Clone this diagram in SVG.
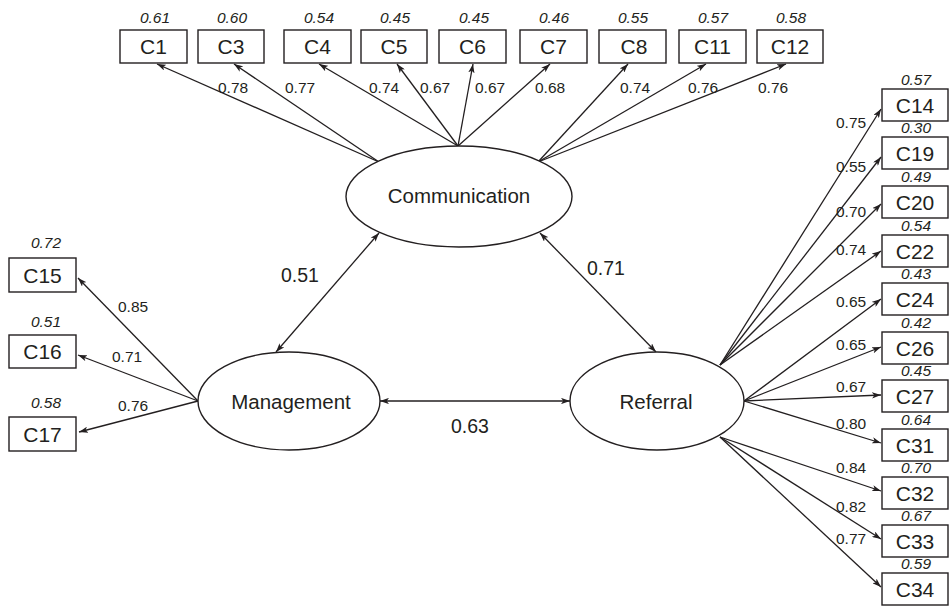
<svg xmlns="http://www.w3.org/2000/svg" width="951" height="607" viewBox="0 0 951 607">
<defs>
<marker id="ah" viewBox="0 0 10 7" refX="10" refY="3.5" markerWidth="9" markerHeight="6.3" markerUnits="userSpaceOnUse" orient="auto-start-reverse">
<path d="M0,0 L10,3.5 L0,7 L2.5,3.5 z" fill="#231f20"/>
</marker>
<style>
.box{fill:#fff;stroke:#231f20;stroke-width:1.4}
.ell{fill:#fff;stroke:#231f20;stroke-width:1.4}
.bt{font-family:"Liberation Sans",Arial,sans-serif;font-size:21px;fill:#231f20;text-anchor:middle}
.lt{font-family:"Liberation Sans",Arial,sans-serif;font-size:20.5px;fill:#231f20;text-anchor:middle}
.rs{font-family:"Liberation Sans",Arial,sans-serif;font-size:15.5px;font-style:italic;fill:#231f20;text-anchor:middle}
.ld{font-family:"Liberation Sans",Arial,sans-serif;font-size:15.5px;fill:#231f20}
.cr{font-family:"Liberation Sans",Arial,sans-serif;font-size:19.5px;fill:#231f20;text-anchor:middle}
.c line{stroke:#231f20;stroke-width:1.3;marker-end:url(#ah)}
.c line.d{marker-start:url(#ah)}
</style>
</defs>
<rect width="951" height="607" fill="#fff"/>

<g id="connectors" class="c">
<line x1="379" y1="162" x2="157" y2="64"/>
<line x1="379" y1="162" x2="234" y2="64"/>
<line x1="458" y1="146" x2="319" y2="64"/>
<line x1="458" y1="146" x2="397" y2="64"/>
<line x1="458" y1="146" x2="473" y2="64"/>
<line x1="458" y1="146" x2="550" y2="64"/>
<line x1="538" y1="162" x2="628" y2="64"/>
<line x1="538" y1="162" x2="706" y2="64"/>
<line x1="538" y1="162" x2="786" y2="64"/>
<line x1="198" y1="401" x2="78" y2="278"/>
<line x1="198" y1="401" x2="78" y2="355"/>
<line x1="198" y1="401" x2="79" y2="432"/>
<line x1="720" y1="365" x2="881" y2="109"/>
<line x1="720" y1="365" x2="881" y2="157"/>
<line x1="720" y1="365" x2="881" y2="204"/>
<line x1="720" y1="365" x2="881" y2="251"/>
<line x1="744" y1="401" x2="881" y2="299"/>
<line x1="744" y1="401" x2="881" y2="347"/>
<line x1="744" y1="401" x2="881" y2="395"/>
<line x1="744" y1="401" x2="881" y2="443"/>
<line x1="720" y1="437" x2="881" y2="491"/>
<line x1="720" y1="437" x2="881" y2="539"/>
<line x1="720" y1="437" x2="881" y2="587"/>
<line class="d" x1="380" y1="401" x2="570" y2="401"/>
<line class="d" x1="379" y1="233" x2="276" y2="352"/>
<line class="d" x1="540" y1="233" x2="656" y2="352"/>
</g>

<g id="loadings">
<text class="ld" x="218" y="93">0.78</text>
<text class="ld" x="285" y="93">0.77</text>
<text class="ld" x="369" y="93">0.74</text>
<text class="ld" x="420" y="93">0.67</text>
<text class="ld" x="475" y="93">0.67</text>
<text class="ld" x="535" y="93">0.68</text>
<text class="ld" x="620" y="93">0.74</text>
<text class="ld" x="688" y="93">0.76</text>
<text class="ld" x="758" y="93">0.76</text>
<text class="ld" x="118" y="312">0.85</text>
<text class="ld" x="112" y="362">0.71</text>
<text class="ld" x="118" y="411">0.76</text>
<text class="ld" x="836" y="128">0.75</text>
<text class="ld" x="836" y="172">0.55</text>
<text class="ld" x="836" y="217">0.70</text>
<text class="ld" x="836" y="255">0.74</text>
<text class="ld" x="836" y="307">0.65</text>
<text class="ld" x="836" y="350">0.65</text>
<text class="ld" x="836" y="392">0.67</text>
<text class="ld" x="836" y="429">0.80</text>
<text class="ld" x="836" y="473">0.84</text>
<text class="ld" x="836" y="512">0.82</text>
<text class="ld" x="836" y="544">0.77</text>
<text class="cr" x="300" y="282">0.51</text>
<text class="cr" x="606" y="275">0.71</text>
<text class="cr" x="470" y="433">0.63</text>
</g>

<g id="Communication"><ellipse class="ell" cx="459" cy="196.5" rx="113" ry="50.5"/><text class="lt" x="459" y="203">Communication</text></g>
<g id="Management"><ellipse class="ell" cx="289" cy="401" rx="91" ry="49"/><text class="lt" x="291" y="408.5">Management</text></g>
<g id="Referral"><ellipse class="ell" cx="657" cy="401" rx="87" ry="49"/><text class="lt" x="656" y="408.5">Referral</text></g>

<g id="C1"><rect class="box" x="120" y="30" width="67" height="33"/><text class="bt" x="153.5" y="54">C1</text><text class="rs" x="155" y="23">0.61</text></g>
<g id="C3"><rect class="box" x="198" y="30" width="66" height="33"/><text class="bt" x="231" y="54">C3</text><text class="rs" x="232" y="23">0.60</text></g>
<g id="C4"><rect class="box" x="284" y="30" width="67" height="33"/><text class="bt" x="317.5" y="54">C4</text><text class="rs" x="319" y="23">0.54</text></g>
<g id="C5"><rect class="box" x="361" y="30" width="66" height="33"/><text class="bt" x="394" y="54">C5</text><text class="rs" x="395" y="23">0.45</text></g>
<g id="C6"><rect class="box" x="439" y="30" width="67" height="33"/><text class="bt" x="472.5" y="54">C6</text><text class="rs" x="474" y="23">0.45</text></g>
<g id="C7"><rect class="box" x="520" y="30" width="67" height="33"/><text class="bt" x="553.5" y="54">C7</text><text class="rs" x="554" y="23">0.46</text></g>
<g id="C8"><rect class="box" x="599" y="30" width="67" height="33"/><text class="bt" x="634" y="54">C8</text><text class="rs" x="633" y="23">0.55</text></g>
<g id="C11"><rect class="box" x="679" y="30" width="67" height="33"/><text class="bt" x="712.5" y="54">C11</text><text class="rs" x="713" y="23">0.57</text></g>
<g id="C12"><rect class="box" x="757" y="30" width="66" height="33"/><text class="bt" x="790" y="54">C12</text><text class="rs" x="791" y="23">0.58</text></g>

<g id="C15"><rect class="box" x="9" y="258" width="67" height="34"/><text class="bt" x="42.5" y="282.5">C15</text><text class="rs" x="46" y="248">0.72</text></g>
<g id="C16"><rect class="box" x="9" y="335" width="67" height="33"/><text class="bt" x="42.5" y="359">C16</text><text class="rs" x="46" y="327">0.51</text></g>
<g id="C17"><rect class="box" x="9" y="417" width="67" height="34"/><text class="bt" x="42.5" y="441.5">C17</text><text class="rs" x="46" y="408">0.58</text></g>

<g id="C14"><rect class="box" x="882" y="89" width="66" height="32"/><text class="bt" x="915" y="112.5">C14</text><text class="rs" x="916" y="85">0.57</text></g>
<g id="C19"><rect class="box" x="882" y="137" width="66" height="32"/><text class="bt" x="915" y="160.5">C19</text><text class="rs" x="916" y="133">0.30</text></g>
<g id="C20"><rect class="box" x="882" y="186" width="66" height="32"/><text class="bt" x="915" y="209.5">C20</text><text class="rs" x="916" y="182">0.49</text></g>
<g id="C22"><rect class="box" x="882" y="235" width="66" height="32"/><text class="bt" x="915" y="258.5">C22</text><text class="rs" x="916" y="231">0.54</text></g>
<g id="C24"><rect class="box" x="882" y="283" width="66" height="32"/><text class="bt" x="915" y="306.5">C24</text><text class="rs" x="916" y="279">0.43</text></g>
<g id="C26"><rect class="box" x="882" y="332" width="66" height="32"/><text class="bt" x="915" y="355.5">C26</text><text class="rs" x="916" y="328">0.42</text></g>
<g id="C27"><rect class="box" x="882" y="380" width="66" height="32"/><text class="bt" x="915" y="403.5">C27</text><text class="rs" x="916" y="376">0.45</text></g>
<g id="C31"><rect class="box" x="882" y="429" width="66" height="32"/><text class="bt" x="915" y="452.5">C31</text><text class="rs" x="916" y="425">0.64</text></g>
<g id="C32"><rect class="box" x="882" y="477" width="66" height="32"/><text class="bt" x="915" y="500.5">C32</text><text class="rs" x="916" y="473">0.70</text></g>
<g id="C33"><rect class="box" x="882" y="525" width="66" height="32"/><text class="bt" x="915" y="548.5">C33</text><text class="rs" x="916" y="521">0.67</text></g>
<g id="C34"><rect class="box" x="882" y="573" width="66" height="32"/><text class="bt" x="915" y="596.5">C34</text><text class="rs" x="916" y="569">0.59</text></g>
</svg>
